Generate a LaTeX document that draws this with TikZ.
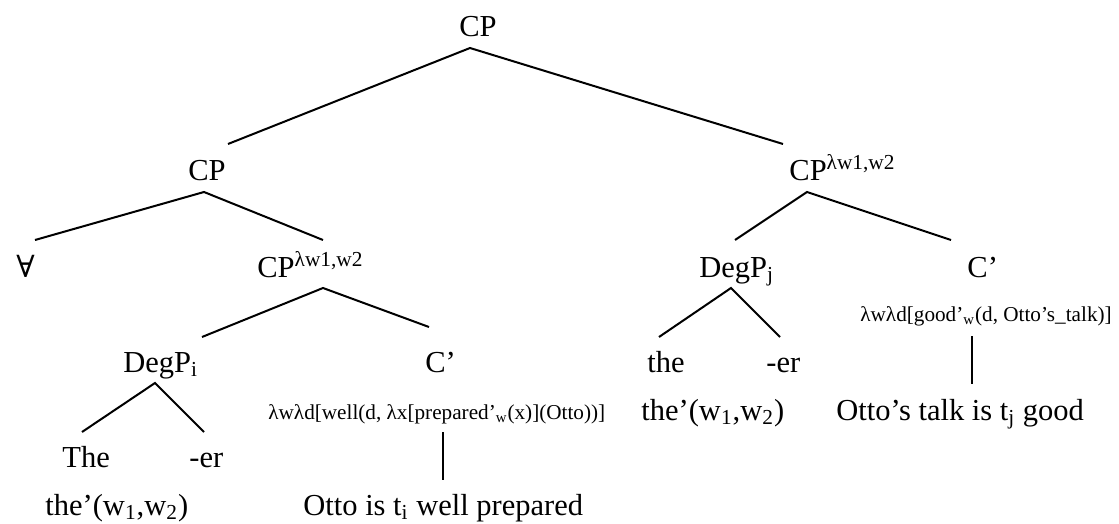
\documentclass[tikz,border=0pt]{standalone}
\usepackage{fontspec}
\setmainfont{Liberation Serif}
\newfontfamily\symfnt{DejaVu Serif}
\usetikzlibrary{calc}
\begin{document}
\begin{tikzpicture}[x=0.5pt,y=-0.5pt,
  lab/.style={anchor=base west, inner sep=0pt, font=\fontsize{15.25}{18}\selectfont},
  sem/.style={anchor=base west, inner sep=0pt, font=\fontsize{10.6}{13}\selectfont},
  branch/.style={draw=black, line width=1pt}]
\useasboundingbox (0,0) rectangle (1119,524);
% level 0
\node[lab] (cp0) at (459,37) {CP};
% level 1
\node[lab] (cp1) at (188,180) {CP};
\node[lab] (cp2) at (789,180) {CP\textsuperscript{λw1,w2}};
% level 2
\node[lab] (all) at (16,277) {\symfnt ∀};
\node[lab] (cp3) at (257,277) {CP\textsuperscript{λw1,w2}};
\node[lab] (degj) at (699,277) {DegP\textsubscript{j}};
\node[lab] (cb2) at (967,277) {C’};
\node[sem] (f2) at (860,321) {λwλd[good’\textsubscript{w}(d, Otto’s\_talk)]};
% level 3
\node[lab] (degi) at (123,372) {DegP\textsubscript{i}};
\node[lab] (cb1) at (425,372) {C’};
\node[sem] (f1) at (268,419) {λwλd[well(d, λx[prepared’\textsubscript{w}(x)](Otto))]};
\node[lab] (the2) at (647,372) {the};
\node[lab] (er2) at (766,372) {-er};
\node[lab] (thep2) at (641,420) {the’(w\textsubscript{1},w\textsubscript{2})};
\node[lab] (otto2) at (836,420) {Otto’s talk is t\textsubscript{j} good};
% level 4
\node[lab] (the1) at (62,467) {The};
\node[lab] (er1) at (189,467) {-er};
\node[lab] (thep1) at (45,515) {the’(w\textsubscript{1},w\textsubscript{2})};
\node[lab] (otto1) at (303,515) {Otto is t\textsubscript{i} well prepared};
% branches
\draw[branch] ($(cp1.base west)+(40,-36)$) -- ($(cp0.base west)+(11,11)$) -- ($(cp2.base west)+(-6,-36)$);
\draw[branch] ($(all.base west)+(19,-37)$) -- ($(cp1.base west)+(16,12)$) -- ($(cp3.base west)+(66,-37)$);
\draw[branch] ($(degj.base west)+(36,-37)$) -- ($(cp2.base west)+(18,12)$) -- ($(cb2.base west)+(-16,-37)$);
\draw[branch] ($(degi.base west)+(79,-35)$) -- ($(cp3.base west)+(66,11)$) -- ($(cb1.base west)+(4,-45)$);
\draw[branch] ($(the1.base west)+(20,-35)$) -- ($(degi.base west)+(32,11)$) -- ($(er1.base west)+(15,-35)$);
\draw[branch] ($(the2.base west)+(12,-35)$) -- ($(degj.base west)+(32,11)$) -- ($(er2.base west)+(14,-35)$);
\draw[branch] ($(f1.base west)+(175,13)$) -- ($(otto1.base west)+(140,-35)$);
\draw[branch] ($(f2.base west)+(112,15)$) -- ($(otto2.base west)+(136,-36)$);
\end{tikzpicture}
\end{document}
